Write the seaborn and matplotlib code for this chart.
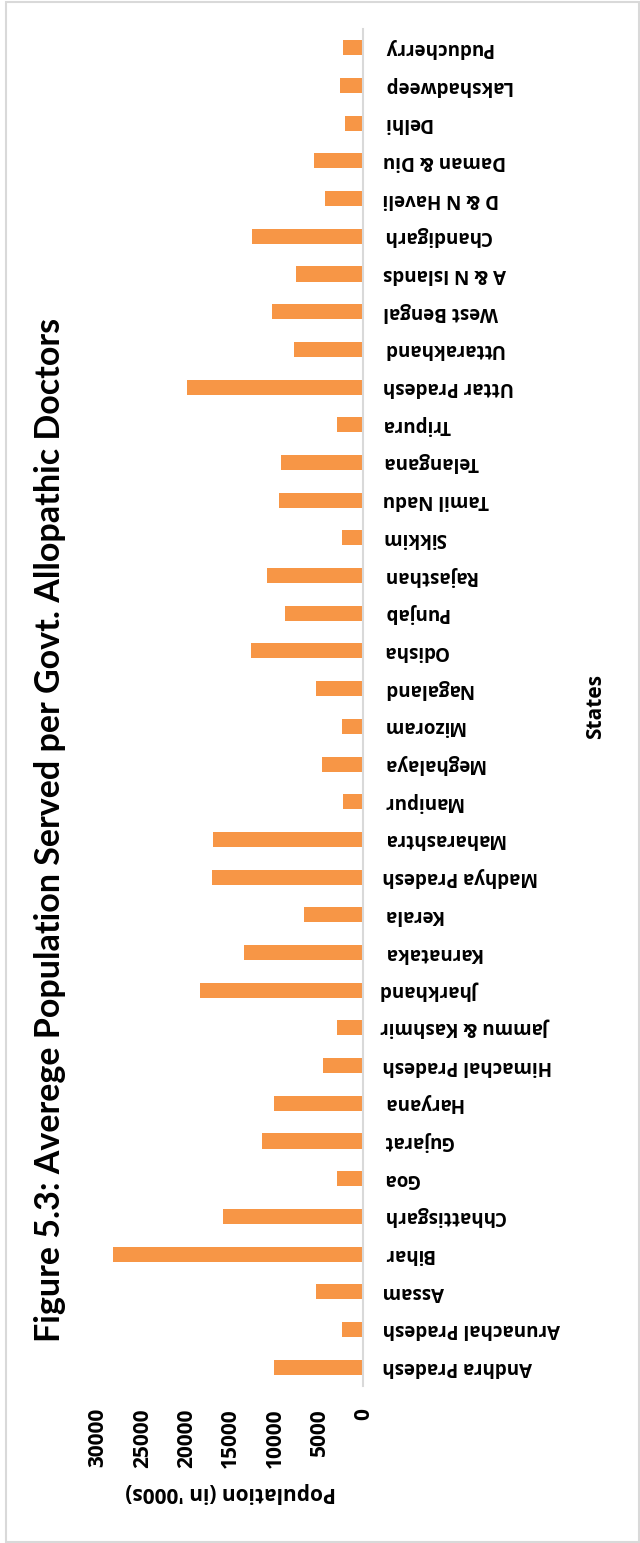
import matplotlib
matplotlib.use("Agg")
import matplotlib.pyplot as plt
import pandas as pd
import seaborn as sns
from matplotlib.patches import Rectangle

# data (population in '000s per govt. allopathic doctor)
states = ["Andhra Pradesh", "Arunachal Pradesh", "Assam", "Bihar", "Chhattisgarh",
          "Goa", "Gujarat", "Haryana", "Himachal Pradesh", "Jammu & Kashmir",
          "Jharkhand", "Karnataka", "Kerala", "Madhya Pradesh", "Maharashtra",
          "Manipur", "Meghalaya", "Mizoram", "Nagaland", "Odisha", "Punjab",
          "Rajasthan", "Sikkim", "Tamil Nadu", "Telangana", "Tripura",
          "Uttar Pradesh", "Uttarakhand", "West Bengal", "A & N Islands",
          "Chandigarh", "D & N Haveli", "Daman & Diu", "Delhi", "Lakshadweep",
          "Puducherry"]
population = [10140, 2380, 5350, 28350, 15870, 2980, 11420, 10140, 4590, 3010,
              18470, 13500, 6740, 17100, 16970, 2260, 4700, 2410, 5350, 12700,
              8820, 10900, 2380, 9500, 9280, 2980, 19900, 7840, 10360, 7580,
              12560, 4370, 5540, 2070, 2640, 2260]
x_ticks = [0, 5000, 10000, 15000, 20000, 25000, 30000]

title = "Figure 5.3: Averege Population Served per Govt. Allopathic Doctors"
BAR = "#F79646"
GRID = "#D9D9D9"

sns.set_theme(style="white")
plt.rcParams["font.family"] = ["Open Sans", "DejaVu Sans"]

df = pd.DataFrame({"state": states, "pop": population})

fig = plt.figure(figsize=(6.4, 15.43), dpi=100)
ax = fig.add_axes([98 / 640, 1 - 1386 / 1543, (363.3 - 98) / 640, (1386 - 29) / 1543])

sns.barplot(data=df, x="pop", y="state", orient="h", color=BAR, saturation=1,
            width=0.4, linewidth=0, ax=ax)

# chart is drawn "turned on its side": values grow to the left, labels upside down
ax.set_xlim(30000, 0)
ax.set_ylim(-0.5, len(states) - 0.5)
ax.set_xticks(x_ticks)
ax.set_xticklabels([str(t) for t in x_ticks])
ax.set_xlabel("")
ax.set_ylabel("")

for side in ["top", "left", "bottom"]:
    ax.spines[side].set_visible(False)
ax.spines["right"].set_color(GRID)
ax.spines["right"].set_linewidth(1.5)

ax.yaxis.tick_right()
ax.tick_params(axis="y", length=0, pad=14, labelright=True, labelleft=False)
ax.tick_params(axis="x", length=0, pad=16)
for lbl in ax.get_yticklabels():
    lbl.set_rotation(180)
    lbl.set_ha("left")
    lbl.set_va("center")
    lbl.set_fontsize(13.5)
    lbl.set_fontweight("bold")
    lbl.set_color("black")
for lbl in ax.get_xticklabels():
    lbl.set_rotation(90)
    lbl.set_va("top")
    lbl.set_ha("center")
    lbl.set_fontsize(15)
    lbl.set_fontweight("bold")
    lbl.set_color("black")

fig.text(50 / 640, 1 - 830 / 1543, title, rotation=90, ha="center", va="center",
         fontsize=24.5, fontweight="bold", color="black", family=["Lato", "DejaVu Sans"])
fig.text(596 / 640, 1 - 707 / 1543, "States", rotation=90, ha="center", va="center",
         fontsize=15, fontweight="bold", color="black")
fig.text(231 / 640, 1 - 1493 / 1543, "Population (in '000s)", rotation=180,
         ha="center", va="center", fontsize=15, fontweight="bold", color="black")

fig.patches.append(Rectangle((6 / 640, 1 / 1543), 633 / 640, 1540 / 1543,
                             transform=fig.transFigure, fill=False,
                             edgecolor=GRID, linewidth=1.5))

fig.savefig("out.png", dpi=100, facecolor="white")
